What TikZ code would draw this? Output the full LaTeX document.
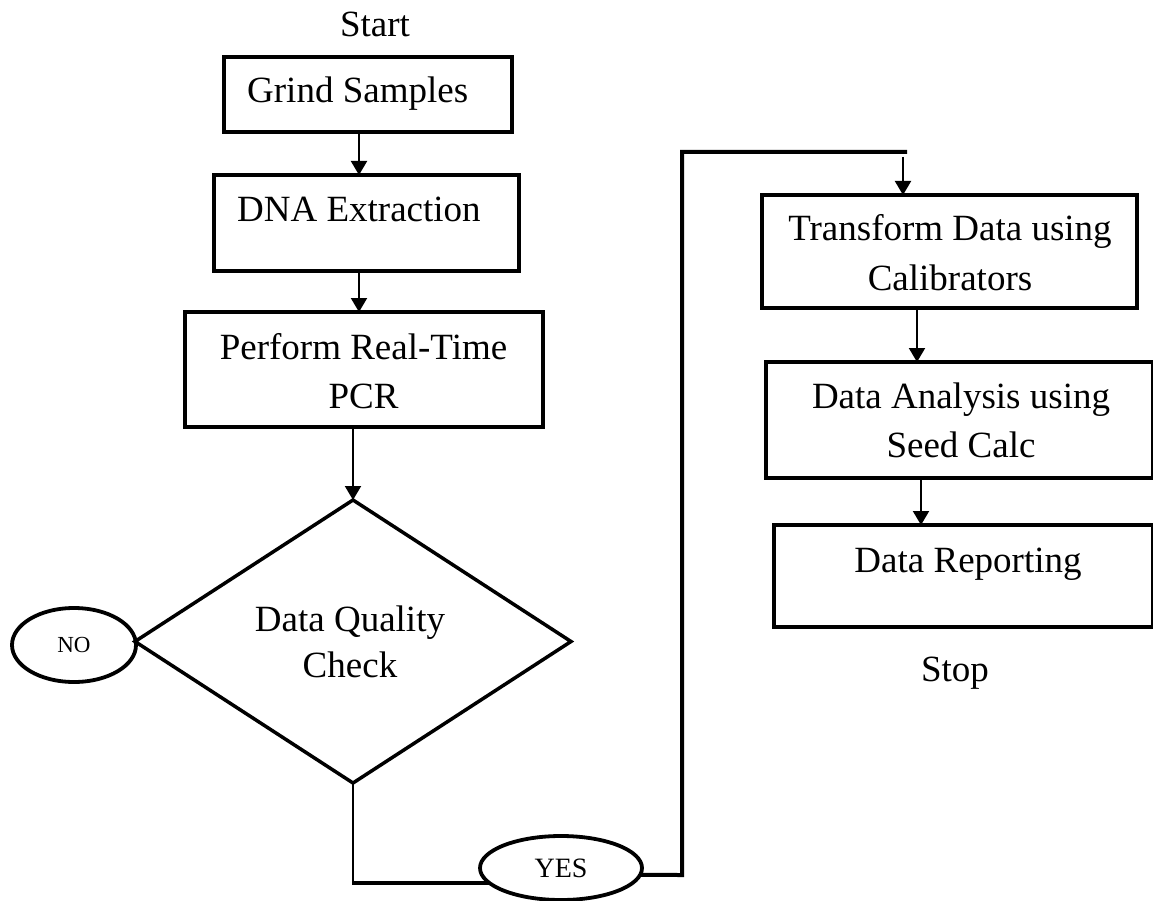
\documentclass[tikz,border=0pt]{standalone}
\usepackage{fontspec}
\setmainfont{Liberation Serif}
\usetikzlibrary{shapes.geometric,arrows.meta}
\begin{document}
\begin{tikzpicture}[x=1pt,y=-1pt,
  stepbox/.style={draw, rectangle, line width=3.5pt, inner sep=0pt, outer sep=0pt},
  decision/.style={draw, diamond, line width=3.5pt, inner sep=0pt, outer sep=0pt},
  oval/.style={draw, ellipse, line width=3.8pt, inner sep=0pt, outer sep=0pt},
  txt/.style={font=\fontsize{37}{49}\selectfont, inner sep=0pt, anchor=base, align=center},
  arr/.style={line width=2pt, -{Triangle[length=14pt,width=16pt]}},
  link/.style={line width=4pt},
  thinlink/.style={line width=2pt}]
\useasboundingbox (0,0) rectangle (1153,901);

% terminal labels
\node[txt] (start) at (375,37) {Start};
\node[txt] (stop) at (955,681) {Stop};

% left column of steps
\node[stepbox, minimum width=288pt, minimum height=75pt] (grind) at (368,94.5) {};
\node[txt, anchor=base west] (grindT) at (247,103) {Grind Samples};

\node[stepbox, minimum width=305pt, minimum height=96pt] (dna) at (366.5,223) {};
\node[txt, anchor=base west] (dnaT) at (237,222) {DNA Extraction};

\node[stepbox, minimum width=358pt, minimum height=115pt] (pcr) at (364,369.5) {};
\node[txt] (pcrT) at (363.5,408) {Perform Real-Time\\PCR};

% quality check
\node[decision, minimum width=436pt, minimum height=283pt] (check) at (353,641.5) {};
\node[txt, font=\fontsize{37}{46}\selectfont] (checkT) at (350,677) {Data Quality\\Check};

\node[oval, minimum width=124pt, minimum height=74pt, font=\fontsize{23}{28}\selectfont] (no) at (74,645) {NO};
\node[oval, minimum width=162pt, minimum height=64pt, font=\fontsize{28}{34}\selectfont] (yes) at (561,868) {YES};

% right column of steps
\node[stepbox, minimum width=375pt, minimum height=113pt] (transform) at (949.5,251.5) {};
\node[txt] (transformT) at (950,290) {Transform Data using\\Calibrators};

\node[stepbox, minimum width=387pt, minimum height=116pt] (analysis) at (959.5,420) {};
\node[txt] (analysisT) at (961,457) {Data Analysis using\\Seed Calc};

\node[stepbox, minimum width=379pt, minimum height=102pt] (report) at (963.5,576) {};
\node[txt] (reportT) at (968,572) {Data Reporting};

% loop corners
\coordinate (loopLow) at (682,875);
\coordinate (loopHigh) at (682,152);
\coordinate (loopEnd) at (907,152);

% connectors
\draw[arr] ([xshift=-9pt]grind.south) -- ([xshift=-9pt]grind.south |- dna.north);
\draw[arr] ([xshift=-7.5pt]dna.south) -- ([xshift=-7.5pt]dna.south |- pcr.north);
\draw[arr] (pcr.south -| check.north) -- (check.north);

\draw[thinlink] (check.south) -- (check.south |- yes.192.9);
\draw[link] ([xshift=-1pt]check.south |- yes.192.9) -- (yes.192.9);
\draw[link] (yes.-5) -- (loopLow) -- (loopHigh) -- (loopEnd);
\draw[arr] ([xshift=-46.5pt,yshift=38pt]transform.north) -- ([xshift=-46.5pt]transform.north);

\draw[arr] ([xshift=-32.5pt]transform.south) -- ([xshift=-32.5pt]transform.south |- analysis.north);
\draw[arr] ([xshift=-38.5pt]analysis.south) -- ([xshift=-38.5pt]analysis.south |- report.north);
\end{tikzpicture}
\end{document}
